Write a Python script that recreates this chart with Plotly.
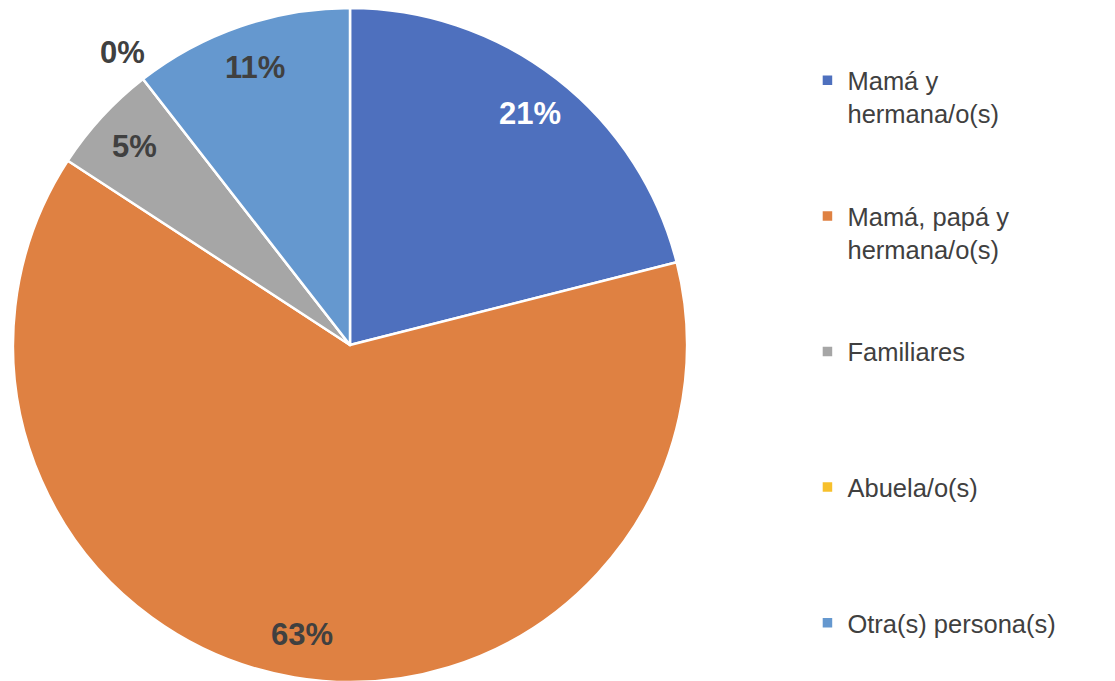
import math
import plotly.graph_objects as go

labels = ['Mamá y<br>hermana/o(s)', 'Mamá, papá y<br>hermana/o(s)', 'Familiares', 'Abuela/o(s)', 'Otra(s) persona(s)']
values = [4, 12, 1, 0, 2]
colors = ['#4E70BE', '#DF8142', '#A6A6A6', '#F7C02C', '#6598CF']
text_colors = ['white', '#404040', '#404040', '#404040', '#404040']
text_inside = [True, True, True, False, True]

W, H = 1115, 681
bottom = 7
R = (H - bottom) / 2       # pie radius in px
cx = 342                   # pie centre x in px

# pad legend entries so they spread down the right side
legend_names = []
for i, l in enumerate(labels):
    n = l.count('<br>') + 1
    legend_names.append(l if i == len(labels) - 1 else l + '<br> ' * (4 - n))

fig = go.Figure(go.Pie(
    labels=legend_names, values=values, sort=False, direction='clockwise', rotation=0,
    marker=dict(colors=colors, line=dict(color='white', width=2.5)),
    textinfo='none', hoverinfo='label+percent',
    domain=dict(x=[(cx - R) / W, (cx + R) / W], y=[0, 1]),
))

# percentage labels placed from the cumulative share of each slice
total = sum(values)
cum = 0
for v, c, inside in zip(values, text_colors, text_inside):
    mid = (cum + v / 2) / total
    cum += v
    ang = 2 * math.pi * mid
    r = 0.87 * R if inside else 1.10 * R
    px = cx + r * math.sin(ang)
    py = R - r * math.cos(ang)   # from top of plot area
    fig.add_annotation(
        x=px / W, y=1 - py / (H - bottom), xref='paper', yref='paper', showarrow=False,
        xanchor='center', yanchor='middle',
        text=f'{round(100 * v / total)}%',
        font=dict(size=31, color=c if inside else '#404040', family='Liberation Sans', weight='bold'),
    )

fig.update_layout(
    width=W, height=H,
    margin=dict(l=0, r=0, t=0, b=bottom, autoexpand=False),
    paper_bgcolor='white',
    showlegend=True,
    legend=dict(x=0.717, y=0.927, xanchor='left', yanchor='top', valign='top',
                font=dict(size=25.5, color='#404040', family='Liberation Sans')),
)
fig.write_html("out.html")
